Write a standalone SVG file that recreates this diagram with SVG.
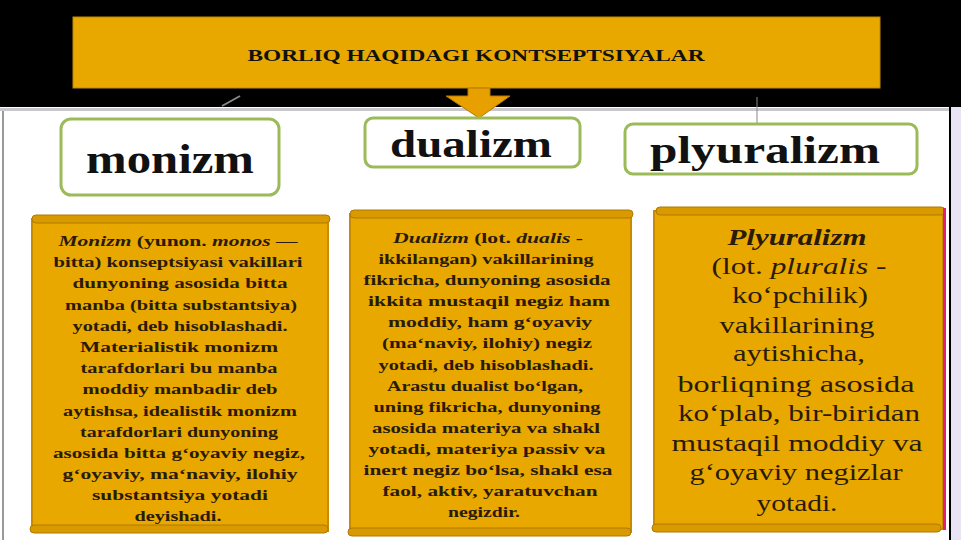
<svg xmlns="http://www.w3.org/2000/svg" width="961" height="540" viewBox="0 0 961 540">
<defs>
<style>
.hd{font-family:"Liberation Serif","Times New Roman",serif;font-weight:bold;fill:#111;text-anchor:middle}
.tx{font-family:"Liberation Serif","Times New Roman",serif;font-weight:bold;fill:#2a1a08;text-anchor:middle;font-size:14px}
.tr{font-family:"Liberation Serif","Times New Roman",serif;fill:#2a1a08;text-anchor:middle;font-size:23px}
.lbl{fill:#fff;stroke:#9bbb59;stroke-width:3}
.scroll{fill:#e8a800;stroke:#c98a00;stroke-width:2}
.roll{fill:#d99a00;stroke:#b07800;stroke-width:1}
</style>
</defs>
<rect x="0" y="0" width="961" height="540" fill="#fff"/>
<rect x="0" y="0" width="961" height="107" fill="#000"/>
<rect x="0" y="108" width="961" height="3" fill="#c8c8cc"/>
<rect x="2" y="111" width="2" height="429" fill="#999"/>
<rect x="949" y="0" width="2" height="540" fill="#000"/>
<rect x="951" y="107" width="10" height="433" fill="#e8e4f4"/>

<g id="title">
<rect x="73" y="17" width="807" height="71" fill="#e8a800" stroke="#c08a00" stroke-width="1"/>
<text class="hd" x="476" y="61" font-size="16" textLength="457" lengthAdjust="spacingAndGlyphs">BORLIQ HAQIDAGI  KONTSEPTSIYALAR</text>
</g>

<g id="connectors">
<path d="M468 88 L490 88 L490 96 L510 96 L479 118 L446 96 L468 96 Z" fill="#e8a000" stroke="#b87800" stroke-width="1"/>
<line x1="240" y1="96" x2="222" y2="106" stroke="#888" stroke-width="2"/>
<line x1="757" y1="97" x2="757" y2="125" stroke="#888" stroke-width="1"/>
</g>

<g id="monizm">
<rect class="lbl" x="61" y="119" width="218" height="76" rx="10"/>
<text class="hd" x="170" y="173" font-size="42" textLength="168" lengthAdjust="spacingAndGlyphs">monizm</text>
</g>
<g id="dualizm">
<rect class="lbl" x="365" y="118" width="215" height="49" rx="8"/>
<text class="hd" x="471" y="157" font-size="38" textLength="162" lengthAdjust="spacingAndGlyphs">dualizm</text>
</g>
<g id="plyuralizm">
<rect class="lbl" x="625" y="124" width="292" height="50" rx="8"/>
<text class="hd" x="765" y="163" font-size="37" textLength="230" lengthAdjust="spacingAndGlyphs">plyuralizm</text>
</g>

<g id="monizm-text">
<rect class="scroll" x="32" y="219" width="296" height="312"/>
<rect class="roll" x="32" y="215" width="298" height="8" rx="4"/>
<rect class="roll" x="30" y="525" width="298" height="8" rx="4"/>
<text class="tx" x="178" y="246" textLength="239" lengthAdjust="spacingAndGlyphs"><tspan font-style="italic">Monizm</tspan> (yunon. <tspan font-style="italic">monos</tspan> —</text>
<text class="tx" x="178" y="267" textLength="249" lengthAdjust="spacingAndGlyphs">bitta) konseptsiyasi vakillari</text>
<text class="tx" x="180" y="288" textLength="215" lengthAdjust="spacingAndGlyphs">dunyoning asosida bitta</text>
<text class="tx" x="181" y="310" textLength="232" lengthAdjust="spacingAndGlyphs">manba (bitta substantsiya)</text>
<text class="tx" x="180" y="331" textLength="215" lengthAdjust="spacingAndGlyphs">yotadi, deb hisoblashadi.</text>
<text class="tx" x="179" y="352" textLength="198" lengthAdjust="spacingAndGlyphs">Materialistik monizm</text>
<text class="tx" x="179" y="373" textLength="197" lengthAdjust="spacingAndGlyphs">tarafdorlari bu manba</text>
<text class="tx" x="180" y="394" textLength="195" lengthAdjust="spacingAndGlyphs">moddiy manbadir deb</text>
<text class="tx" x="180" y="416" textLength="234" lengthAdjust="spacingAndGlyphs">aytishsa, idealistik monizm</text>
<text class="tx" x="179" y="437" textLength="198" lengthAdjust="spacingAndGlyphs">tarafdorlari dunyoning</text>
<text class="tx" x="179" y="458" textLength="252" lengthAdjust="spacingAndGlyphs">asosida bitta g‘oyaviy negiz,</text>
<text class="tx" x="180" y="479" textLength="235" lengthAdjust="spacingAndGlyphs">g‘oyaviy, ma‘naviy, ilohiy</text>
<text class="tx" x="180" y="500" textLength="176" lengthAdjust="spacingAndGlyphs">substantsiya yotadi</text>
<text class="tx" x="178" y="521" textLength="87" lengthAdjust="spacingAndGlyphs">deyishadi.</text>
</g>

<g id="dualizm-text">
<rect class="scroll" x="350" y="214" width="281" height="318"/>
<rect class="roll" x="350" y="210" width="283" height="8" rx="4"/>
<rect class="roll" x="348" y="528" width="283" height="8" rx="4"/>
<text class="tx" x="488" y="243" textLength="190" lengthAdjust="spacingAndGlyphs"><tspan font-style="italic">Dualizm</tspan> (lot. <tspan font-style="italic">dualis</tspan> -</text>
<text class="tx" x="486" y="264" textLength="215" lengthAdjust="spacingAndGlyphs">ikkilangan) vakillarining</text>
<text class="tx" x="487" y="285" textLength="247" lengthAdjust="spacingAndGlyphs">fikricha, dunyoning asosida</text>
<text class="tx" x="489" y="306" textLength="242" lengthAdjust="spacingAndGlyphs">ikkita mustaqil negiz ham</text>
<text class="tx" x="490" y="327" textLength="204" lengthAdjust="spacingAndGlyphs">moddiy, ham g‘oyaviy</text>
<text class="tx" x="487" y="348" textLength="210" lengthAdjust="spacingAndGlyphs">(ma‘naviy, ilohiy) negiz</text>
<text class="tx" x="486" y="370" textLength="215" lengthAdjust="spacingAndGlyphs">yotadi, deb hisoblashadi.</text>
<text class="tx" x="485" y="391" textLength="196" lengthAdjust="spacingAndGlyphs">Arastu dualist bo‘lgan,</text>
<text class="tx" x="487" y="412" textLength="227" lengthAdjust="spacingAndGlyphs">uning fikricha, dunyoning</text>
<text class="tx" x="486" y="433" textLength="228" lengthAdjust="spacingAndGlyphs">asosida materiya va shakl</text>
<text class="tx" x="487" y="454" textLength="237" lengthAdjust="spacingAndGlyphs">yotadi, materiya passiv va</text>
<text class="tx" x="488" y="475" textLength="249" lengthAdjust="spacingAndGlyphs">inert negiz bo‘lsa, shakl esa</text>
<text class="tx" x="490" y="496" textLength="215" lengthAdjust="spacingAndGlyphs">faol, aktiv, yaratuvchan</text>
<text class="tx" x="484" y="517" textLength="72" lengthAdjust="spacingAndGlyphs">negizdir.</text>
</g>

<g id="plyuralizm-text">
<rect class="scroll" x="654" y="211" width="289" height="318"/>
<rect class="roll" x="656" y="207" width="289" height="8" rx="4"/>
<rect class="roll" x="652" y="524" width="289" height="8" rx="4"/>
<rect x="943" y="208" width="3" height="322" fill="#e0207a"/>
<text class="tr" x="797" y="245" font-weight="bold" font-style="italic" textLength="139" lengthAdjust="spacingAndGlyphs">Plyuralizm</text>
<text class="tr" x="799" y="274" textLength="175" lengthAdjust="spacingAndGlyphs">(lot. <tspan font-style="italic">pluralis</tspan> -</text>
<text class="tr" x="800" y="303" textLength="136" lengthAdjust="spacingAndGlyphs">ko‘pchilik)</text>
<text class="tr" x="797" y="333" textLength="155" lengthAdjust="spacingAndGlyphs">vakillarining</text>
<text class="tr" x="799" y="361" textLength="132" lengthAdjust="spacingAndGlyphs">aytishicha,</text>
<text class="tr" x="796" y="392" textLength="237" lengthAdjust="spacingAndGlyphs">borliqning asosida</text>
<text class="tr" x="799" y="421" textLength="242" lengthAdjust="spacingAndGlyphs">ko‘plab, bir-biridan</text>
<text class="tr" x="797" y="451" textLength="251" lengthAdjust="spacingAndGlyphs">mustaqil moddiy va</text>
<text class="tr" x="796" y="480" textLength="213" lengthAdjust="spacingAndGlyphs">g‘oyaviy negizlar</text>
<text class="tr" x="797" y="511" textLength="81" lengthAdjust="spacingAndGlyphs">yotadi.</text>
</g>
</svg>
